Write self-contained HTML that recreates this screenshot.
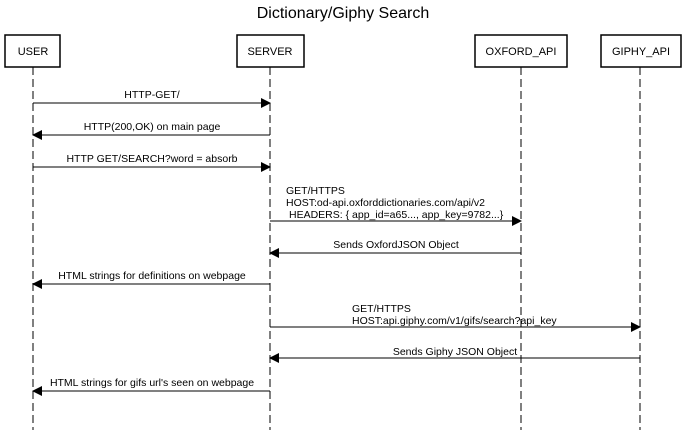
<!DOCTYPE html>
<html><head><meta charset="utf-8"><style>
body{margin:0;background:#fff;}
svg{display:block;font-family:"Liberation Sans",Arial,sans-serif;}
</style></head><body>
<svg width="686" height="430" viewBox="0 0 686 430" xmlns="http://www.w3.org/2000/svg">
<defs>
<marker id="a" markerWidth="10" markerHeight="10" refX="9" refY="5" orient="auto" markerUnits="userSpaceOnUse">
<path d="M0,0 L10,5 L0,10 Z" fill="#000"/></marker>
</defs>
<text x="343" y="18" font-size="16" text-anchor="middle">Dictionary/Giphy Search</text>
<g stroke="#000" stroke-width="1" stroke-dasharray="8,4" fill="none">
<line x1="33" y1="67" x2="33" y2="430"/>
<line x1="270" y1="67" x2="270" y2="430"/>
<line x1="521" y1="67" x2="521" y2="430"/>
<line x1="640" y1="67" x2="640" y2="430"/>
</g>
<g stroke="#000" stroke-width="1.5" fill="#fff">
<rect x="5" y="35" width="55" height="32"/>
<rect x="237" y="35" width="67" height="32"/>
<rect x="475" y="35" width="92" height="32"/>
<rect x="601" y="35" width="80" height="32"/>
</g>
<g font-size="11" text-anchor="middle">
<text x="33" y="55">USER</text>
<text x="270" y="55">SERVER</text>
<text x="521" y="55">OXFORD_API</text>
<text x="641" y="55">GIPHY_API</text>
</g>
<g stroke="#000" stroke-width="1" marker-end="url(#a)">
<line x1="33" y1="103" x2="270" y2="103"/>
<line x1="270" y1="135" x2="33" y2="135"/>
<line x1="33" y1="167" x2="270" y2="167"/>
<line x1="270" y1="221" x2="521" y2="221"/>
<line x1="521" y1="253" x2="270" y2="253"/>
<line x1="270" y1="284" x2="33" y2="284"/>
<line x1="270" y1="327" x2="640" y2="327"/>
<line x1="640" y1="358" x2="270" y2="358"/>
<line x1="270" y1="391" x2="33" y2="391"/>
</g>
<g font-size="10.5">
<text x="152" y="98" text-anchor="middle">HTTP-GET/</text>
<text x="152" y="130" text-anchor="middle">HTTP(200,OK) on main page</text>
<text x="152" y="162" text-anchor="middle">HTTP GET/SEARCH?word = absorb</text>
<text x="286" y="194">GET/HTTPS</text>
<text x="286" y="206">HOST:od-api.oxforddictionaries.com/api/v2</text>
<text x="289" y="218">HEADERS: { app_id=a65..., app_key=9782...}</text>
<text x="396" y="248" text-anchor="middle">Sends OxfordJSON Object</text>
<text x="152" y="279" text-anchor="middle">HTML strings for definitions on webpage</text>
<text x="352" y="312">GET/HTTPS</text>
<text x="352" y="324">HOST:api.giphy.com/v1/gifs/search?api_key</text>
<text x="455" y="355" text-anchor="middle">Sends Giphy JSON Object</text>
<text x="152" y="386" text-anchor="middle">HTML strings for gifs url's seen on webpage</text>
</g>
</svg>
</body></html>
